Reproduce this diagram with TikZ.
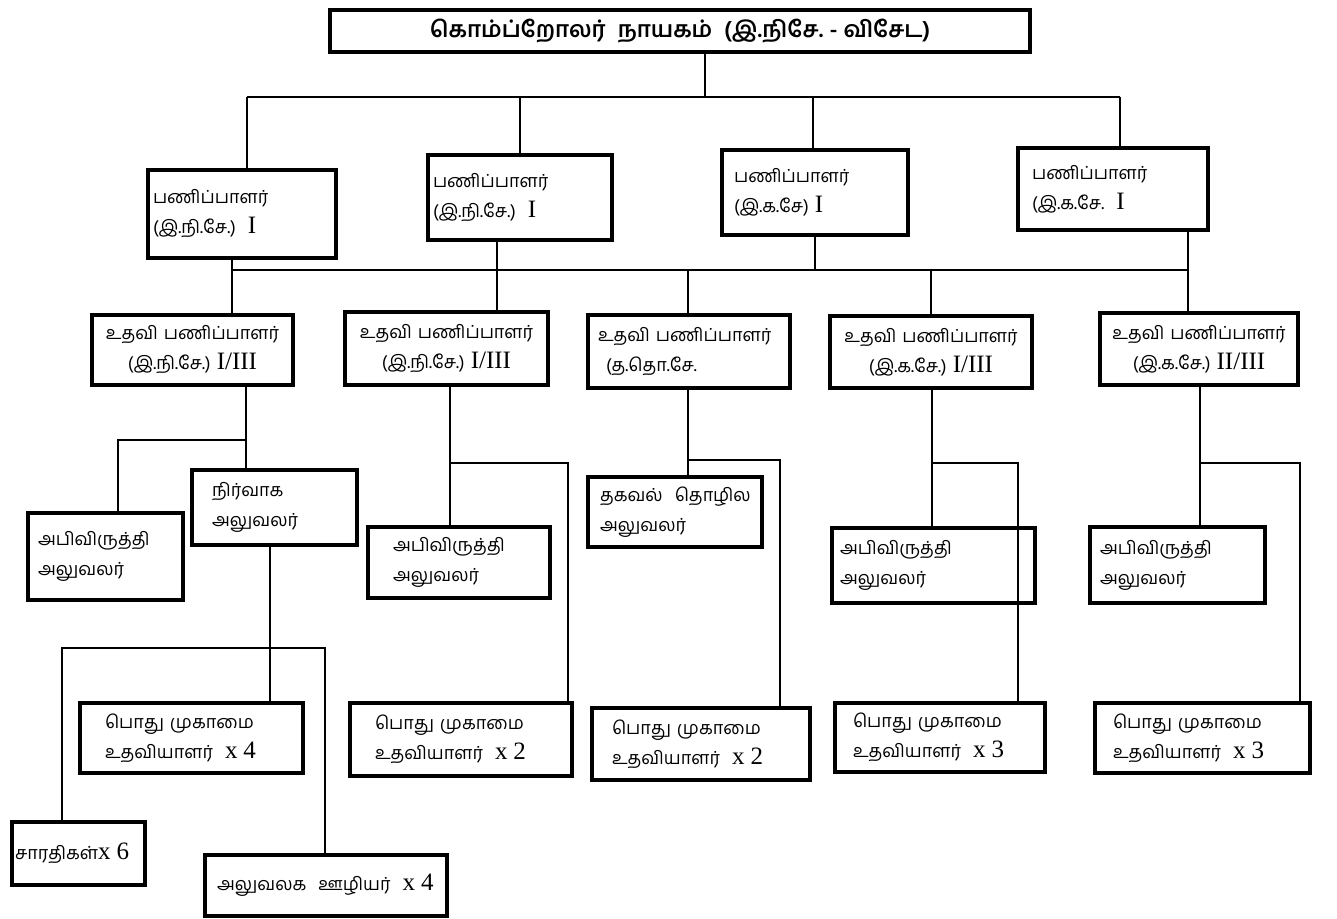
\documentclass[tikz,border=0pt]{standalone}
\usepackage{fontspec}
\setmainfont{Liberation Serif}
\newfontfamily\tamilf[Script=Tamil]{Hind Madurai}
\newcommand\lt[1]{{\rmfamily\fontsize{12.5}{15}\selectfont #1}}
\newcommand\bx[8][left]{%
  \pgfmathsetlengthmacro\bxw{(#5-#3)*0.5pt}%
  \pgfmathsetlengthmacro\bxh{(#6-#4)*0.5pt}%
  \pgfmathsetlengthmacro\bxt{(#5-#3-2*#7)*0.5pt}%
  \node[box, minimum width=\bxw, minimum height=\bxh, text width=\bxt, align=#1] (#2) at ({(#3+#5)/2},{(#4+#6)/2}) {#8};}
\begin{document}
\begin{tikzpicture}[x=0.5pt,y=-0.5pt,
  box/.style={draw, line width=1.7pt, inner sep=0pt, fill=white, font=\tamilf\fontsize{9}{15}\selectfont},
  conn/.style={line width=1.4pt}]
\useasboundingbox[fill=white] (0,0) rectangle (1337,919);
% boxes
\bx[center]{top}{330}{10}{1030}{52}{10}{\bfseries\fontsize{11.3}{13}\selectfont கொம்ப்றோலர்~~நாயகம்~~(இ.நிசே.~-~விசேட)}
\bx{P1}{148}{170}{336}{258}{5}{பணிப்பாளர்\\(இ.நி.சே.)~~\lt{I}}
\bx{P2}{428}{155}{612}{240}{5}{பணிப்பாளர்\\(இ.நி.சே.)~~\lt{I}}
\bx{P3}{722}{150}{908}{235}{12}{பணிப்பாளர்\\(இ.க.சே)~\lt{I}}
\bx{P4}{1018}{148}{1208}{230}{14}{பணிப்பாளர்\\(இ.க.சே.~~\lt{I}}
\bx[center]{A1}{92}{315}{293}{385}{0}{உதவி~பணிப்பாளர்\\(இ.நி.சே.)~\lt{I/III}}
\bx[center]{A2}{345}{312}{548}{385}{0}{உதவி~பணிப்பாளர்\\(இ.நி.சே.)~\lt{I/III}}
\bx{A3}{588}{315}{790}{388}{10}{உதவி~பணிப்பாளர்\\\hspace*{4pt}(த.தொ.சே.}
\bx[center]{A4}{830}{316}{1032}{388}{0}{உதவி~பணிப்பாளர்\\(இ.க.சே.)~\lt{I/III}}
\bx[center]{A5}{1100}{313}{1298}{385}{0}{உதவி~பணிப்பாளர்\\(இ.க.சே.)~\lt{II/III}}
\bx{D1}{28}{513}{183}{600}{10}{அபிவிருத்தி\\அலுவலர்}
\bx{N}{192}{470}{357}{545}{20}{நிர்வாக\\அலுவலர்}
\bx{D2}{368}{527}{550}{598}{25}{அபிவிருத்தி\\அலுவலர்}
\bx{T}{588}{477}{762}{547}{12}{தகவல்~~தொழில\\அலுவலர்}
\bx{D4}{832}{528}{1035}{603}{8}{அபிவிருத்தி\\அலுவலர்}
\bx{D5}{1090}{527}{1265}{603}{10}{அபிவிருத்தி\\அலுவலர்}
\bx{G1}{80}{703}{303}{773}{25}{பொது~முகாமை\\உதவியாளர்~~\lt{x~4}}
\bx{G2}{350}{703}{572}{776}{25}{பொது~முகாமை\\உதவியாளர்~~\lt{x~2}}
\bx{G3}{592}{708}{810}{780}{20}{பொது~முகாமை\\உதவியாளர்~~\lt{x~2}}
\bx{G4}{835}{703}{1045}{772}{18}{பொது~முகாமை\\உதவியாளர்~~\lt{x~3}}
\bx{G5}{1095}{703}{1310}{773}{18}{பொது~முகாமை\\உதவியாளர்~~\lt{x~3}}
\bx{S}{12}{822}{145}{885}{3}{சாரதிகள்\lt{x~6}}
\bx{O}{205}{855}{447}{916}{12}{அலுவலக~~ஊழியர்~~\lt{x~4}}
% level 1
\coordinate (j0) at (705,97);
\draw[conn] (j0 |- top.south) -- (j0);
\coordinate (b1a) at (247,97);
\coordinate (b1b) at (520,97);
\coordinate (b1c) at (813,97);
\coordinate (b1d) at (1120,97);
\draw[conn] (b1a) -- (b1d);
\foreach \c/\n in {b1a/P1,b1b/P2,b1c/P3,b1d/P4} \draw[conn] (\c) -- (\c |- \n.north);
% level 2 bus
\coordinate (b2a) at (232,270);
\coordinate (b2b) at (497,270);
\coordinate (b2c) at (688,270);
\coordinate (b2p) at (815,270);
\coordinate (b2d) at (931,270);
\coordinate (b2e) at (1188,270);
\draw[conn] (b2a) -- (b2e);
\draw[conn] (b2a |- P1.south) -- (b2a |- A1.north);
\draw[conn] (b2b |- P2.south) -- (b2b |- A2.north);
\draw[conn] (b2p |- P3.south) -- (b2p);
\draw[conn] (b2e |- P4.south) -- (b2e |- A5.north);
\draw[conn] (b2c) -- (b2c |- A3.north);
\draw[conn] (b2d) -- (b2d |- A4.north);
% A1 branch
\coordinate (c1) at (246,440);
\coordinate (c1l) at (118,440);
\draw[conn] (c1 |- A1.south) -- (c1 |- N.north);
\draw[conn] (c1) -- (c1l) -- (c1l |- D1.north);
\coordinate (c2) at (270,648);
\coordinate (c2l) at (62,648);
\coordinate (c2r) at (325,648);
\draw[conn] (c2 |- N.south) -- (c2 |- G1.north);
\draw[conn] (c2l |- S.north) -- (c2l) -- (c2r) -- (c2r |- O.north);
% A2 branch
\coordinate (c3) at (450,463);
\coordinate (c3r) at (568,463);
\draw[conn] (c3 |- A2.south) -- (c3 |- D2.north);
\draw[conn] (c3) -- (c3r) -- (c3r |- G2.north);
% A3 branch
\coordinate (c4) at (688,460);
\coordinate (c4r) at (780,460);
\draw[conn] (c4 |- A3.south) -- (c4 |- T.north);
\draw[conn] (c4) -- (c4r) -- (c4r |- G3.north);
% A4 branch
\coordinate (c5) at (932,463);
\coordinate (c5r) at (1018,463);
\draw[conn] (c5 |- A4.south) -- (c5 |- D4.north);
\draw[conn] (c5) -- (c5r) -- (c5r |- G4.north);
% A5 branch
\coordinate (c6) at (1200,463);
\coordinate (c6r) at (1300,463);
\draw[conn] (c6 |- A5.south) -- (c6 |- D5.north);
\draw[conn] (c6) -- (c6r) -- (c6r |- G5.north);
\end{tikzpicture}
\end{document}
